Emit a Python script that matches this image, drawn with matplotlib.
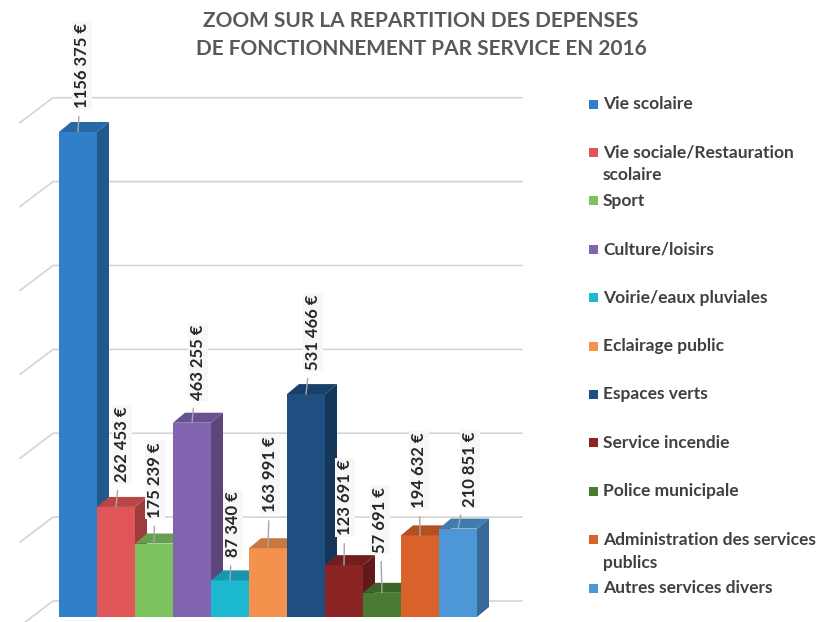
import matplotlib.pyplot as plt
from matplotlib.patches import Polygon, Rectangle
from matplotlib.colors import to_rgb

services = ["Vie scolaire", "Vie sociale/Restauration\nscolaire", "Sport",
            "Culture/loisirs", "Voirie/eaux pluviales", "Eclairage public",
            "Espaces verts", "Service incendie", "Police municipale",
            "Administration des services\npublics", "Autres services divers"]
depenses = [1156375, 262453, 175239, 463255, 87340, 163991,
            531466, 123691, 57691, 194632, 210851]
labels = ["1156 375 €", "262 453 €", "175 239 €", "463 255 €", "87 340 €",
          "163 991 €", "531 466 €", "123 691 €", "57 691 €", "194 632 €",
          "210 851 €"]
colors = ["#2F7FC9", "#E05557", "#7DC25E", "#8064B0", "#1CB8D0", "#F4924D",
          "#1F4E80", "#8B2424", "#4B7A35", "#D9622A", "#4E97D6"]
grid_vals = [0, 200000, 400000, 600000, 800000, 1000000, 1200000]

# label offsets (px) relative to front-top centre of each bar
lab_dx = [4, 6, 1, 6, 3, 2, 7, 1, -2, -1, 12]
lab_dy = [24, 25, 26, 23, 23, 36, 24, 30, 40, 27, 22]

W, H = 822, 622
fig = plt.figure(figsize=(W / 100, H / 100), dpi=100)
ax = fig.add_axes([0, 0, 1, 1])
upp = 1156375 / 485.0          # euros per pixel
x0 = 59                        # pixel of first bar's left edge
bw = 38                        # bar width in pixels
ax.set_xlim(-x0 / bw, (W - x0) / bw)
ax.set_ylim(-(H - 617) * upp, 617 * upp)
ax.axis("off")

font = "Lato"


def shade(c, f):
    r, g, b = to_rgb(c)
    return (r * f, g * f, b * f)


# back wall gridlines with the slanted left part
wall_dy = 16 * upp
for v in grid_vals:
    yb = v + wall_dy
    ax.plot([-1.026, -0.158, 12.18], [yb - 25 * upp, yb, yb],
            color="#D4D4D4", lw=1.2, zorder=1)

ddx = 12 / bw
ddy = 10 * upp
for i, (v, c) in enumerate(zip(depenses, colors)):
    z = 3 + i * 0.01
    ax.add_patch(Rectangle((i, 0), 1, v, facecolor=c, edgecolor="none", zorder=z))
    ax.add_patch(Polygon([(i + 1, 0), (i + 1 + ddx, ddy), (i + 1 + ddx, v + ddy), (i + 1, v)],
                         closed=True, facecolor=shade(c, 0.7), edgecolor="none", zorder=z))
    ax.add_patch(Polygon([(i, v), (i + 1, v), (i + 1 + ddx, v + ddy), (i + ddx, v + ddy)],
                         closed=True, facecolor=shade(c, 0.82), edgecolor="none", zorder=z))
    ax.annotate(labels[i], xy=(i + 0.5, v), xytext=(lab_dx[i] * 0.72, lab_dy[i] * 0.72),
                textcoords="offset points", rotation=90, ha="center", va="bottom",
                fontsize=12, fontweight="bold", family=font, color="#262626",
                bbox=dict(boxstyle="square,pad=0.1", facecolor="#F7F7F7", edgecolor="none"),
                arrowprops=dict(arrowstyle="-", color="#A6A6A6", lw=1, shrinkA=5, shrinkB=0),
                zorder=10)

# title
fig.text(421 / W, 1 - 21 / H, "ZOOM SUR LA REPARTITION DES DEPENSES",
         ha="center", va="center", fontsize=15, fontweight="bold", family=font, color="#595959")
fig.text(421 / W, 1 - 49 / H, "DE FONCTIONNEMENT PAR SERVICE EN 2016",
         ha="center", va="center", fontsize=15, fontweight="bold", family=font, color="#595959")

# legend
for i, (name, c) in enumerate(zip(services, colors)):
    yc = 104 + 48.4 * i
    fig.patches.append(Rectangle((589 / W, 1 - (yc + 4.5) / H), 9 / W, 9 / H,
                                 transform=fig.transFigure, facecolor=c, edgecolor="none"))
    for j, line in enumerate(name.split("\n")):
        fig.text(603 / W, 1 - (yc + 23 * j) / H, line, ha="left", va="center",
                 fontsize=12.5, fontweight="bold", family=font, color="#404040")

fig.savefig("out.png", dpi=100)
